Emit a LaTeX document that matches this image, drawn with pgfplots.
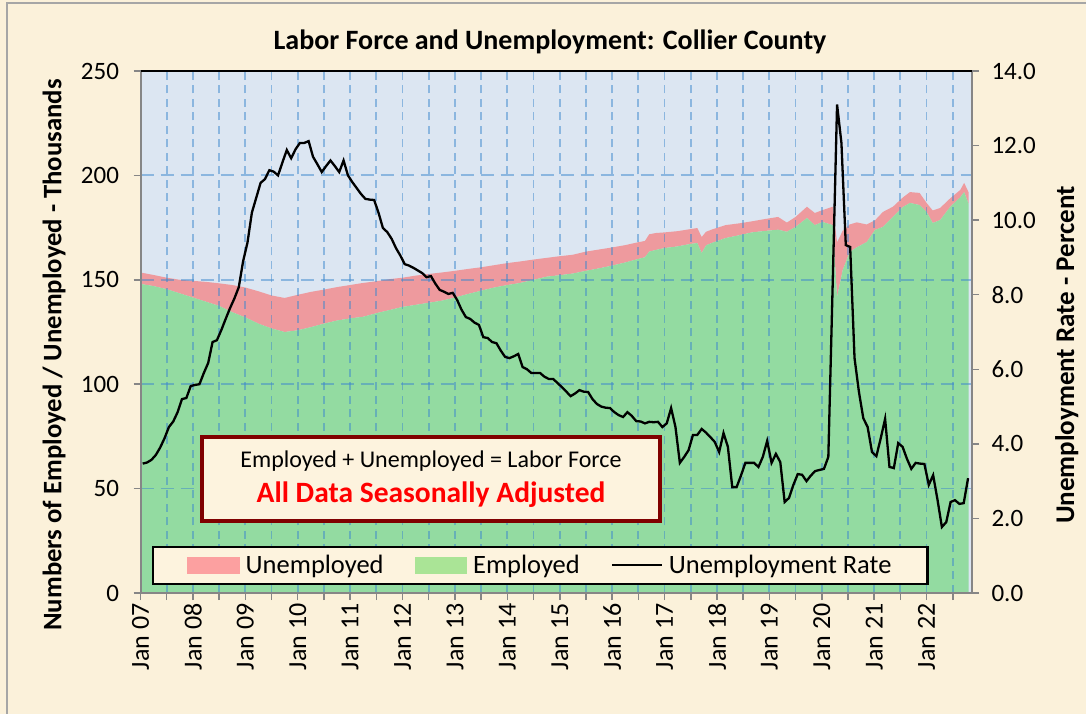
\documentclass[border=0pt]{standalone}
\usepackage{fontspec}
\setmainfont{Carlito}
\usepackage{pgfplots}
\pgfplotsset{compat=1.18}
\usepackage{pgfplotstable}
\definecolor{parch}{RGB}{251,241,218}
\definecolor{plotbg}{RGB}{220,230,242}
\definecolor{areagreen}{RGB}{147,219,161}
\definecolor{areapink}{RGB}{238,154,158}
\definecolor{leggreen}{RGB}{170,228,150}
\definecolor{legpink}{RGB}{252,160,160}
\definecolor{gridblue}{RGB}{60,135,205}
\definecolor{axgray}{RGB}{134,134,134}
\definecolor{boxred}{RGB}{128,0,0}
\definecolor{boxfill}{RGB}{253,243,222}

% months since Jan 2007; employed and unemployed, thousands
\pgfplotstableread{
m emp unemp
0 148.0 5.5
3 147.0 5.3
6 145.5 5.5
9 143.5 6.5
12 141.5 8.0
15 139.5 9.5
18 137.5 10.8
21 134.5 13.0
24 132.0 14.3
27 129.0 15.5
30 126.7 15.8
33 125.0 16.3
36 125.8 17.0
39 127.3 16.9
42 129.0 16.3
45 130.5 16.0
48 131.5 16.0
51 132.3 16.2
54 134.0 15.3
57 135.5 14.8
60 137.0 14.0
63 138.0 14.0
66 139.0 13.8
69 140.0 13.5
72 141.5 12.8
75 143.2 12.0
78 144.8 11.2
81 146.3 10.7
84 147.5 10.5
87 148.5 10.3
90 150.0 9.7
93 151.5 9.0
96 152.2 9.1
99 153.0 9.0
102 154.3 9.2
105 155.5 9.0
108 156.8 8.7
111 158.3 8.3
114 160.0 8.0
115.5 160.8 7.8
116.5 163.5 8.3
118 164.3 8.1
120 165.2 7.5
123 166.0 7.3
126 167.2 7.1
127.5 167.6 7.2
128.5 162.8 7.7
129.5 166.5 6.5
131 167.8 6.4
134 170.0 6.2
137 171.3 5.7
140 172.7 5.3
143 173.4 5.7
146 174.0 6.1
148 173.0 4.4
150 175.3 4.8
152.6 179.6 5.4
154.4 176.2 5.8
156.2 177.7 5.7
158.5 176.2 8.8
159.5 141.8 26.2
160.8 154.7 18.8
162.4 163.3 13.2
164 165.5 12.0
166.3 168.1 8.4
168.2 173.9 4.6
170 175.3 7.2
172.3 180.1 4.9
174.6 184.9 4.6
176.2 186.8 5.2
178.4 185.8 5.8
180 182.5 4.3
181.4 177.2 6.0
183.1 178.6 5.8
185.4 184.9 4.1
187.7 189.5 3.5
188.6 192.0 4.4
189.6 186.5 5.5
}\areatable

% month index (0 = Jan 2007), unemployment rate in percent
\pgfplotstableread{
m r
0 3.47
1 3.50
2 3.57
3 3.70
4 3.90
5 4.15
6 4.45
7 4.60
8 4.85
9 5.20
10 5.23
11 5.55
12 5.58
13 5.60
14 5.90
15 6.17
16 6.73
17 6.78
18 7.05
19 7.35
20 7.64
21 7.90
22 8.20
23 8.90
24 9.40
25 10.20
26 10.60
27 11.00
28 11.10
29 11.34
30 11.30
31 11.20
32 11.55
33 11.88
34 11.66
35 11.90
36 12.07
37 12.07
38 12.12
39 11.70
40 11.50
41 11.29
42 11.45
43 11.60
44 11.45
45 11.29
46 11.60
47 11.20
48 11.02
49 10.86
50 10.70
51 10.57
52 10.55
53 10.54
54 10.20
55 9.79
56 9.68
57 9.50
58 9.25
59 9.05
60 8.82
61 8.78
62 8.72
63 8.65
64 8.58
65 8.47
66 8.50
67 8.30
68 8.13
69 8.08
70 8.02
71 8.05
72 7.86
73 7.60
74 7.40
75 7.35
76 7.25
77 7.19
78 6.86
79 6.84
80 6.73
81 6.70
82 6.50
83 6.33
84 6.30
85 6.35
86 6.41
87 6.06
88 6.00
89 5.90
90 5.90
91 5.90
92 5.80
93 5.74
94 5.74
95 5.63
96 5.52
97 5.40
98 5.28
99 5.35
100 5.44
101 5.40
102 5.39
103 5.20
104 5.07
105 5.00
106 4.97
107 4.96
108 4.85
109 4.77
110 4.72
111 4.85
112 4.75
113 4.61
114 4.60
115 4.55
116 4.59
117 4.58
118 4.59
119 4.45
120 4.55
121 4.96
122 4.45
123 3.49
124 3.65
125 3.83
126 4.24
127 4.24
128 4.40
129 4.30
130 4.18
131 4.05
132 3.78
133 4.29
134 3.92
135 2.84
136 2.84
137 3.15
138 3.49
139 3.49
140 3.49
141 3.38
142 3.65
143 4.08
144 3.49
145 3.73
146 3.51
147 2.44
148 2.55
149 2.90
150 3.19
151 3.17
152 3.00
153 3.15
154 3.27
155 3.30
156 3.33
157 3.65
158 8.30
159 13.10
160 12.07
161 9.33
162 9.28
163 6.30
164 5.40
165 4.69
166 4.45
167 3.78
168 3.67
169 4.15
170 4.67
171 3.38
172 3.35
173 4.02
174 3.92
175 3.60
176 3.33
177 3.49
178 3.47
179 3.46
180 2.90
181 3.16
182 2.50
183 1.77
184 1.90
185 2.44
186 2.49
187 2.39
188 2.41
189 3.08
}\ratetable

\begin{document}
\begin{tikzpicture}[x=1pt,y=1pt]
\fill[parch] (0,0) rectangle (1086,714);
\draw[black!35, line width=2pt] (6.5,0) -- (6.5,710.5) -- (1086,710.5);

\node[font=\bfseries\fontsize{28}{28}\selectfont] at (550,672) {Labor Force and Unemployment: Collier County};

\begin{axis}[
  at={(140.5pt,121pt)}, anchor=south west, scale only axis,
  width=831.5pt, height=522pt,
  xmin=0, xmax=190.4, ymin=0, ymax=250,
  axis on top,
  axis background/.style={fill=plotbg},
  axis line style={draw=none},
  stack plots=y,
  xtick={0,12,...,180},
  xticklabels={Jan 07,Jan 08,Jan 09,Jan 10,Jan 11,Jan 12,Jan 13,Jan 14,Jan 15,Jan 16,Jan 17,Jan 18,Jan 19,Jan 20,Jan 21,Jan 22},
  minor xtick={6,18,...,186},
  ytick={0,50,...,250},
  xtick pos=bottom, ytick pos=left,
  tick align=outside,
  major tick length=7pt, minor tick length=7pt,
  every tick/.style={axgray, line width=1.5pt},
  xmajorgrids, xminorgrids, ymajorgrids,
  x grid style={gridblue, opacity=0.5, line width=1.8pt, dash pattern=on 8pt off 5.5pt},
  y grid style={gridblue, opacity=0.5, line width=1.8pt, dash pattern=on 13pt off 7pt},
  /pgf/number format/assume math mode=true,
  yticklabel style={font=\fontsize{25}{25}\selectfont, xshift=-11pt},
  xticklabel style={rotate=90, anchor=east, font=\fontsize{26}{26}\selectfont},
  ylabel={Numbers of Employed / Unemployed - Thousands},
  every axis y label/.style={at={(axis description cs:-0.104,0.456)}, rotate=90, anchor=center, font=\bfseries\fontsize{26.7}{26.7}\selectfont},
]
\addplot[fill=areagreen, draw=none] table[x=m, y=emp] {\areatable} \closedcycle;
\addplot[fill=areapink, draw=none] table[x=m, y=unemp] {\areatable} \closedcycle;
\end{axis}

\begin{axis}[
  at={(140.5pt,121pt)}, anchor=south west, scale only axis,
  width=831.5pt, height=522pt,
  xmin=0, xmax=190.4, ymin=0, ymax=14,
  axis x line=none, axis y line*=right,
  axis line style={draw=none},
  ytick={0,2,...,14},
  tick align=outside,
  major tick length=7pt,
  every tick/.style={axgray, line width=1.5pt},
  /pgf/number format/assume math mode=true,
  yticklabel style={font=\fontsize{25}{25}\selectfont, xshift=9pt, /pgf/number format/fixed, /pgf/number format/fixed zerofill, /pgf/number format/precision=1},
  ylabel={Unemployment Rate - Percent},
  every axis y label/.style={at={(axis description cs:1.114,0.456)}, rotate=90, anchor=center, font=\bfseries\fontsize{27}{27}\selectfont},
  legend columns=3,
  legend style={at={(0.0138,0.0153)}, anchor=south west, draw=black, line width=2.5pt, fill=boxfill,
    font=\fontsize{26.5}{26.5}\selectfont, inner xsep=34pt, inner ysep=6.5pt,
    /tikz/every even column/.append style={column sep=29pt}},
]
\addlegendimage{legend image code/.code={\fill[legpink] (0pt,-7.5pt) rectangle (50pt,7.5pt);}}
\addlegendentry{\hspace{4pt}Unemployed}
\addlegendimage{legend image code/.code={\fill[leggreen] (0pt,-7.5pt) rectangle (50pt,7.5pt);}}
\addlegendentry{\hspace{4pt}Employed}
\addplot[black, line width=2.3pt, legend image code/.code={\draw[black, line width=2pt] (0pt,0pt) -- (50pt,0pt);}]
  table[x expr=\thisrow{m}+0.5, y=r] {\ratetable};
\addlegendentry{\hspace{4pt}Unemployment Rate\hspace{-4pt}}
\end{axis}

% axis frame
\draw[axgray, line width=2pt] (140.5,121) -- (140.5,643);
\draw[axgray, line width=2pt] (972,121) -- (972,643);
\draw[axgray, line width=2pt] (139.5,121) -- (973,121);
\draw[black, line width=2.5pt] (140.5,643) -- (972,643);

\node[draw=boxred, line width=3.5pt, fill=boxfill, minimum width=458pt, minimum height=84pt, align=center, inner sep=0pt,
  font=\fontsize{24}{35}\selectfont]
  at (431,235) {Employed + Unemployed = Labor Force\\
  {\color{red}\bfseries\fontsize{29.5}{35}\selectfont All Data Seasonally Adjusted}};

\pgfresetboundingbox
\useasboundingbox (0,0) rectangle (1086,714);
\end{tikzpicture}
\end{document}
